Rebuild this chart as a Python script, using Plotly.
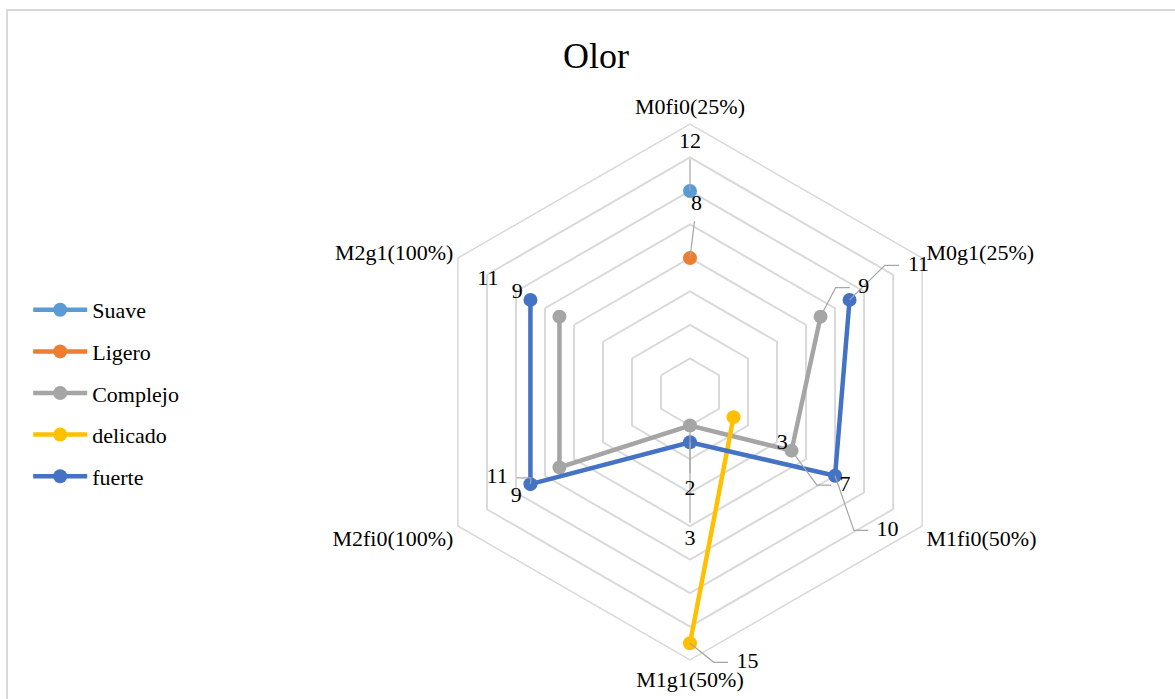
import math
import plotly.graph_objects as go

# ---- data -------------------------------------------------------------
categories = ["M0fi0(25%)", "M0g1(25%)", "M1fi0(50%)", "M1g1(50%)", "M2fi0(100%)", "M2g1(100%)"]
series_names = ["Suave", "Ligero", "Complejo", "delicado", "fuerte"]
suave = [12, None, None, None, None, None]
ligero = [8, None, None, None, None, None]
complejo = [None, 9, 7, 2, 9, 9]
delicado = [None, None, 3, 15, None, None]
fuerte = [None, 11, 10, 3, 11, 11]

# ---- style ------------------------------------------------------------
colors = ["#5B9BD5", "#ED7D31", "#A5A5A5", "#FFC000", "#4472C4"]
FONT = "Liberation Serif, Times New Roman, DejaVu Serif, serif"
GRID = "#d9d9d9"
LEADER = "#a6a6a6"
RMAX = 16

# Data-label placement: (series index, category index) -> (r, theta, leader style)
label_place = {
    (0, 0): (14.9, 0, "v"),
    (1, 0): (11.2, 2, "v"),
    (2, 1): (12.1, 59, "h"),
    (2, 2): (10.8, 121, "h"),
    (2, 3): (5.85, 180, "v"),
    (2, 4): (12.1, 239, None),
    (2, 5): (11.9, 300, None),
    (3, 2): (6.3, 119, None),
    (3, 3): (16.5, 168, "h"),
    (4, 1): (15.6, 61, "h"),
    (4, 2): (14.4, 125, "h"),
    (4, 3): (8.8, 180, "v"),
    (4, 4): (12.6, 246, "h"),
    (4, 5): (13.8, 299, None),
}

all_series = [suave, ligero, complejo, delicado, fuerte]
cat_theta = [i * 360 / len(categories) for i in range(len(categories))]


def to_xy(r, th):
    a = math.radians(th)
    return r * math.sin(a), r * math.cos(a)


def to_polar(x, y):
    return math.hypot(x, y), math.degrees(math.atan2(x, y)) % 360


fig = go.Figure()

# series lines + markers on the category radar
for name, vals, col in zip(series_names, all_series, colors):
    fig.add_trace(go.Scatterpolar(
        r=vals, theta=categories, name=name, mode="lines+markers",
        line=dict(color=col, width=4.5), marker=dict(color=col, size=14),
        connectgaps=False, legendgroup=name, subplot="polar",
        hoverinfo="skip",
    ))

# leader lines and value labels on an overlaid numeric-angle polar
lab_r, lab_t, lab_txt = [], [], []
for (si, ci), (lr, lt, style) in label_place.items():
    v = all_series[si][ci]
    lab_r.append(lr)
    lab_t.append(lt)
    lab_txt.append(str(v))
    if style is None:
        continue
    px, py = to_xy(v, cat_theta[ci])
    qx, qy = to_xy(lr, lt)
    if style == "v":
        d = math.hypot(px - qx, py - qy)
        ex, ey = qx + (px - qx) / d * 1.0, qy + (py - qy) / d * 1.0
        pts = [(px, py), (ex, ey)]
    else:
        side = 1 if qx > px else -1
        half = 0.33 * len(str(v))
        ex = qx - side * (half + 0.5)
        kx = ex - side * 0.85
        pts = [(px, py), (kx, qy), (ex, qy)]
    pr, pt = zip(*[to_polar(x, y) for x, y in pts])
    fig.add_trace(go.Scatterpolar(
        r=list(pr), theta=list(pt), mode="lines", subplot="polar2",
        line=dict(color=LEADER, width=1.2), showlegend=False, hoverinfo="skip",
        cliponaxis=False,
    ))

fig.add_trace(go.Scatterpolar(
    r=lab_r, theta=lab_t, text=lab_txt, mode="text", subplot="polar2",
    textposition="middle center", textfont=dict(family=FONT, size=22, color="#000000"),
    showlegend=False, hoverinfo="skip", cliponaxis=False,
))

W, H = 1175, 699
cx, cy, R = 690, 392, 268
dom_x = [(cx - R) / W, (cx + R) / W]
dom_y = [1 - (cy + R) / H, 1 - (cy - R) / H]
# the label overlay spans a slightly larger radius so outer labels stay inside its range
K = 1.1
R2 = R * K
dom2_x = [(cx - R2) / W, (cx + R2) / W]
dom2_y = [1 - (cy + R2) / H, 1 - (cy - R2) / H]

fig.update_layout(
    width=W, height=H,
    margin=dict(l=0, r=0, t=0, b=0),
    paper_bgcolor="white",
    font=dict(family=FONT, color="#000000"),
    title=dict(text="Olor", x=596 / W, y=1 - 55 / H, xanchor="center", yanchor="middle",
               font=dict(family=FONT, size=36, color="#000000")),
    polar=dict(
        domain=dict(x=dom_x, y=dom_y),
        bgcolor="white",
        gridshape="linear",
        radialaxis=dict(range=[0, RMAX], dtick=2, showticklabels=False, ticks="",
                        showline=False, gridcolor=GRID, gridwidth=1.5),
        angularaxis=dict(type="category", categoryarray=categories, rotation=90,
                         direction="clockwise", showgrid=False, ticks="",
                         showline=True, linecolor=GRID, linewidth=1.5,
                         tickfont=dict(family=FONT, size=22, color="#000000")),
    ),
    polar2=dict(
        domain=dict(x=dom2_x, y=dom2_y),
        bgcolor="rgba(0,0,0,0)",
        radialaxis=dict(range=[0, RMAX * K], visible=False),
        angularaxis=dict(rotation=90, direction="clockwise", visible=False),
    ),
    legend=dict(x=0.024, y=1 - 393 / H, xanchor="left", yanchor="middle",
                font=dict(family=FONT, size=22, color="#000000"),
                itemwidth=54, tracegroupgap=10, bgcolor="rgba(0,0,0,0)"),
    shapes=[dict(type="rect", xref="paper", yref="paper",
                 x0=7 / W, x1=1.02, y0=-0.03, y1=1 - 10 / H,
                 line=dict(color=GRID, width=2), fillcolor="rgba(0,0,0,0)", layer="below")],
)

fig.write_html("out.html")
